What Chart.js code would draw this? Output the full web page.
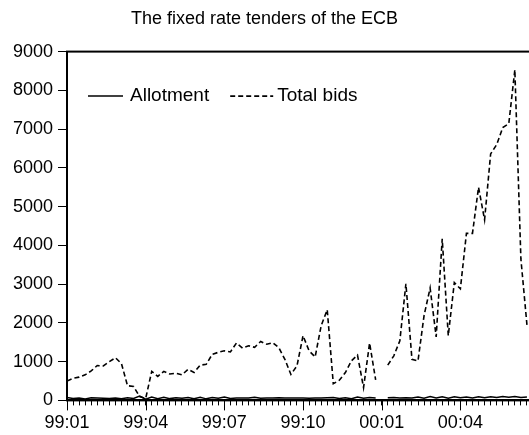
<!DOCTYPE html>
<html>
<head>
<meta charset="utf-8">
<title>The fixed rate tenders of the ECB</title>
<script src="https://cdn.jsdelivr.net/npm/chart.js@4/dist/chart.umd.min.js"></script>
<style>
  html, body { margin: 0; padding: 0; background: #fff; overflow: hidden; }
  #wrap { position: relative; width: 540px; height: 435px; }
</style>
</head>
<body>
<div id="wrap"><canvas id="tenders"></canvas></div>
<script>
// weekly tenders, Jan 1999 - Jun 2000 (EUR bn), null = no tender at the turn of the year
const weeks = Array.from({ length: 77 }, (_, i) => i);
const tickLabels = ['99:01', '99:04', '99:07', '99:10', '00:01', '00:04'];
const allotment = [
  75, 48, 59, 39, 69, 62, 57, 50, 63, 43, 71, 51, 110,
  30, 85, 45, 78, 46, 68, 58, 75, 45, 82, 40, 75, 58,
  88, 50, 62, 65, 60, 82, 55, 62, 60, 70, 62, 60, 65,
  60, 55, 65, 60, 70, 72, 50, 68, 45, 88, 54, 75, 60,
  null, 67, 77, 62, 69, 62, 87, 55, 97, 63, 95, 54, 96,
  70, 89, 65, 96, 67, 93, 76, 100, 82, 99, 75, 87
];
const totalBids = [
  500, 570, 600, 660, 760, 900, 890, 1000, 1100, 950, 380, 360, 100,
  50, 750, 620, 750, 680, 700, 660, 800, 720, 910, 930, 1190, 1240,
  1280, 1250, 1480, 1350, 1410, 1370, 1520, 1450, 1490, 1360, 1060, 670, 890,
  1670, 1280, 1120, 1930, 2340, 430, 520, 720, 1020, 1170, 330, 1480, 530,
  null, 910, 1150, 1540, 3010, 1060, 1020, 2190, 2900, 1640, 4170, 1670, 3040,
  2880, 4310, 4310, 5500, 4660, 6360, 6600, 7040, 7140, 8530, 3650, 1950
];

Chart.defaults.font.family = "'Liberation Sans', Arial, sans-serif";
Chart.defaults.font.size = 18;
Chart.defaults.color = '#000';

// box round the plot + long ticks at the labelled weeks
const frame = {
  id: 'frame',
  afterDraw(chart) {
    const { ctx, chartArea: a, scales } = chart;
    ctx.save();
    ctx.strokeStyle = '#000';
    ctx.lineWidth = 2;
    ctx.strokeRect(a.left, a.top, a.right - a.left, a.bottom - a.top);
    ctx.lineWidth = 1;
    ctx.beginPath();
    tickLabels.forEach((_, i) => {
      const x = Math.round(scales.x.getPixelForValue(i * 13)) + 0.5;
      ctx.moveTo(x, a.bottom);
      ctx.lineTo(x, a.bottom + 10);
    });
    ctx.stroke();
    ctx.restore();
  }
};

// legend drawn inside the plot, one row, top left
const sampleLen = [35, 43];
const sampleGap = [7, 4];
const insideLegend = {
  id: 'insideLegend',
  afterDraw(chart) {
    const { ctx, chartArea: a } = chart;
    ctx.save();
    ctx.font = "19px 'Liberation Sans', Arial, sans-serif";
    ctx.textBaseline = 'middle';
    ctx.fillStyle = '#000';
    let x = a.left + 21;
    const y = a.top + 44;
    chart.data.datasets.forEach((ds, i) => {
      ctx.strokeStyle = ds.borderColor;
      ctx.lineWidth = ds.borderWidth;
      ctx.setLineDash(ds.borderDash || []);
      ctx.beginPath();
      ctx.moveTo(x, y + 0.5);
      ctx.lineTo(x + sampleLen[i], y + 0.5);
      ctx.stroke();
      ctx.setLineDash([]);
      const tx = x + sampleLen[i] + sampleGap[i];
      ctx.fillText(ds.label, tx, y);
      x = tx + ctx.measureText(ds.label).width + 21;
    });
    ctx.restore();
  }
};

new Chart(document.getElementById('tenders'), {
  type: 'line',
  data: {
    labels: weeks,
    datasets: [
      {
        label: 'Allotment',
        data: allotment,
        borderColor: '#000',
        borderWidth: 1.5,
        pointRadius: 0,
        tension: 0
      },
      {
        label: 'Total bids',
        data: totalBids,
        borderColor: '#000',
        borderWidth: 1.6,
        borderDash: [5, 3],
        pointRadius: 0,
        tension: 0
      }
    ]
  },
  options: {
    responsive: true,
    maintainAspectRatio: false,
    animation: false,
    layout: { padding: { left: -7, right: 4, top: 0, bottom: -6 } },
    plugins: {
      title: {
        display: true,
        text: 'The fixed rate tenders of the ECB',
        color: '#000',
        font: { size: 18, weight: 'normal' },
        padding: { top: 8, bottom: 22 }
      },
      legend: { display: false },
      tooltip: { enabled: false }
    },
    scales: {
      x: {
        type: 'linear',
        min: 0,
        max: 77,
        border: { color: '#000', width: 2 },
        grid: { drawOnChartArea: false, tickLength: 5, tickColor: '#000' },
        ticks: {
          stepSize: 1,
          maxTicksLimit: 100,
          autoSkip: false,
          maxRotation: 0,
          padding: 7,
          callback: v => (v % 13 === 0 ? tickLabels[v / 13] : '')
        }
      },
      y: {
        min: 0,
        max: 9000,
        border: { color: '#000', width: 2 },
        grid: { drawOnChartArea: false, tickLength: 9, tickColor: '#000' },
        ticks: { stepSize: 1000, padding: 5, callback: v => String(v) },
        afterFit: scale => { scale.width = 74; }
      }
    }
  },
  plugins: [frame, insideLegend]
});
</script>
</body>
</html>
